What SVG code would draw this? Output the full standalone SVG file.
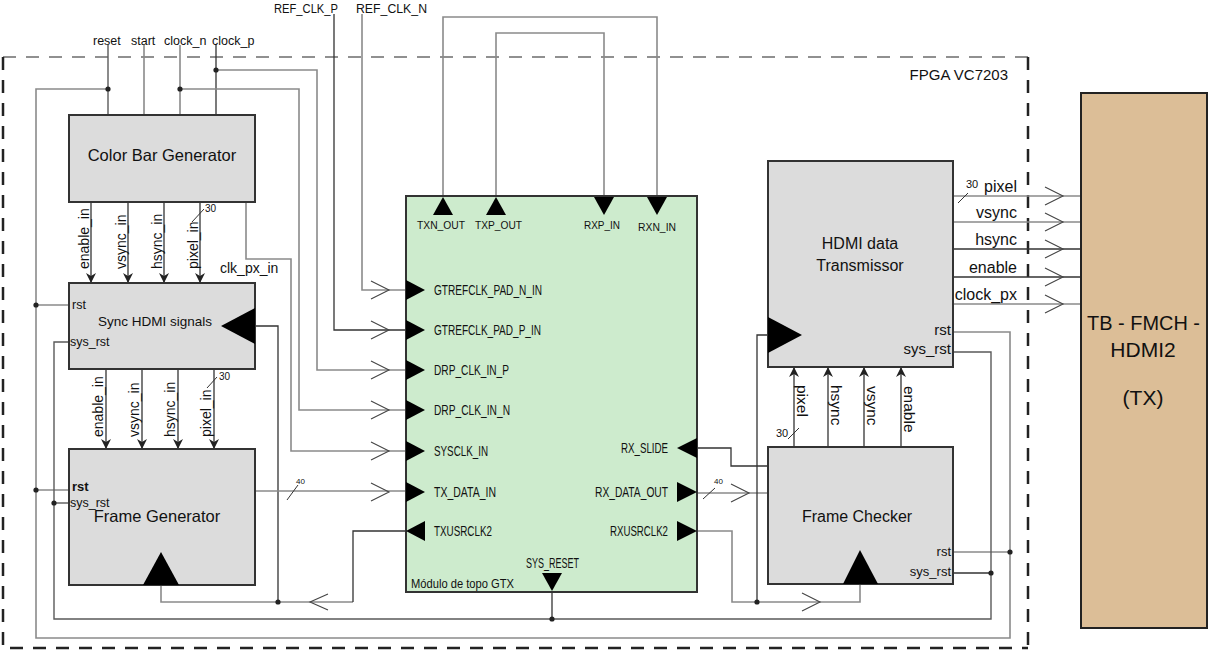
<svg xmlns="http://www.w3.org/2000/svg" width="1208" height="651" viewBox="0 0 1208 651">
<defs>
<style>
text{font-family:"Liberation Sans",Arial,sans-serif;fill:#111;}
.box{fill:#dcdcdc;stroke:#333;stroke-width:2;}
.gtx{fill:#cdebcd;stroke:#333;stroke-width:2;}
.tb{fill:#dcbe97;stroke:#222;stroke-width:2;}
.k{fill:none;stroke:#333;stroke-width:1.3;}
.g{fill:none;stroke:#8a8a8a;stroke-width:1.6;}
.m{fill:none;stroke:#5a5a5a;stroke-width:1.4;}
.chev{fill:none;stroke:#444;stroke-width:1.1;}
.tick{fill:none;stroke:#333;stroke-width:1;}
.dot{fill:#222;}
.tri{fill:#000;}
.port{font-size:14px;}
.tport{font-size:11.5px;}
.sm{font-size:12.5px;}
.sig{font-size:14px;}
.title{font-size:16.5px;}
.num{font-size:10px;}
.num8{font-size:8px;}
.dash-top{fill:none;stroke:#222;stroke-width:1.2;stroke-dasharray:13 10;}
.dash{fill:none;stroke:#222;stroke-width:2.5;stroke-dasharray:13 10;}
</style>
<marker id="arr" markerUnits="userSpaceOnUse" markerWidth="10" markerHeight="10" refX="10" refY="5" orient="auto">
<path d="M0,0 L10,5 L0,10 L3,5 z" fill="#222"/>
</marker>
</defs>

<rect x="0" y="0" width="1208" height="651" fill="#fff"/>

<!-- FPGA boundary -->
<g id="fpga-boundary">
<path class="dash-top" d="M3,57 H1028"/>
<path class="dash" d="M3,57 V648 H1028"/>
<path class="dash" d="M1028,57 V648"/>
<text x="1008" y="80" font-size="15" text-anchor="end">FPGA VC7203</text>
</g>

<!-- connectors -->
<g id="connectors">
<!-- top inputs -->
<path class="m" d="M108,45 V115"/>
<path class="g" d="M144,45 V115"/>
<path class="g" d="M180,45 V115"/>
<path class="k" d="M216,45 V115"/>
<!-- reset bus -->
<path class="g" d="M108,89 H36 V638 H1010 V332 H953"/>
<path class="g" d="M36,305 H69"/>
<path class="g" d="M36,490 H69"/>
<path class="g" d="M953,552 H1010"/>
<!-- sys_rst bus -->
<path class="m" d="M69,342 H54 V619 H991 V352 H953"/>
<path class="m" d="M54,503 H69"/>
<path class="k" d="M953,573 H991"/>
<path class="k" d="M552,590 V619"/>
<!-- clocks to GTX -->
<path class="g" d="M180,89 H299 V410 H406"/>
<path class="g" d="M216,70 H317 V370 H406"/>
<path class="k" d="M334,14 V330 H406"/>
<path class="g" d="M362,14 V290 H406"/>
<path class="g" d="M246,202 V259 H291 V451 H406"/>
<!-- sync clock -->
<path class="k" d="M255,326 H278 V602"/>
<!-- frame gen clock / TXUSRCLK2 -->
<path class="g" d="M161,570 V602 H353"/>
<path class="k" d="M353,602 V531 H406"/>
<!-- TX data -->
<path class="g" d="M255,491 H406"/>
<!-- loopback -->
<path class="g" d="M443,197 V17 H657 V197"/>
<path class="g" d="M496,197 V33 H604 V197"/>
<!-- RX side -->
<path class="k" d="M697,448 H731 V466 H768"/>
<path class="g" d="M697,493 H768"/>
<path class="g" d="M697,531 H732 V602 H860 V575"/>
<path class="k" d="M757,602 V335 H768"/>
<!-- CBG -> Sync -->
<path class="k" d="M91,202 V283" marker-end="url(#arr)"/>
<path class="k" d="M128,202 V283" marker-end="url(#arr)"/>
<path class="k" d="M164,202 V283" marker-end="url(#arr)"/>
<path class="k" d="M200,202 V283" marker-end="url(#arr)"/>
<!-- Sync -> FG -->
<path class="k" d="M106,369 V449" marker-end="url(#arr)"/>
<path class="k" d="M142,369 V449" marker-end="url(#arr)"/>
<path class="k" d="M178,369 V449" marker-end="url(#arr)"/>
<path class="k" d="M214,369 V449" marker-end="url(#arr)"/>
<!-- FC -> HDMI Tx -->
<path class="k" d="M794,447 V367" marker-end="url(#arr)"/>
<path class="k" d="M828,447 V367" marker-end="url(#arr)"/>
<path class="k" d="M864,447 V367" marker-end="url(#arr)"/>
<path class="k" d="M901,447 V367" marker-end="url(#arr)"/>
<!-- HDMI outputs -->
<path class="g" d="M953,196 H1081"/>
<path class="g" d="M953,222 H1081"/>
<path class="k" d="M953,249 H1081"/>
<path class="k" d="M953,277 H1081"/>
<path class="g" d="M953,304 H1081"/>

<!-- chevrons -->
<path class="chev" d="M371,281 L389,290 L371,299"/>
<path class="chev" d="M371,321 L389,330 L371,339"/>
<path class="chev" d="M371,361 L389,370 L371,379"/>
<path class="chev" d="M371,401 L389,410 L371,419"/>
<path class="chev" d="M371,442 L389,451 L371,460"/>
<path class="chev" d="M371,483 L389,492 L371,501"/>
<path class="chev" d="M328,594 L310,602 L328,610"/>
<path class="chev" d="M731,484 L749,493 L731,502"/>
<path class="chev" d="M802,593 L820,602 L802,611"/>
<path class="chev" d="M1045,187 L1063,196 L1045,205"/>
<path class="chev" d="M1045,213 L1063,222 L1045,231"/>
<path class="chev" d="M1045,240 L1063,249 L1045,258"/>
<path class="chev" d="M1045,268 L1063,277 L1045,286"/>
<path class="chev" d="M1045,295 L1063,304 L1045,313"/>

<!-- bus ticks -->
<path class="tick" d="M192,222 L204,209"/>
<path class="tick" d="M207,388 L217,377"/>
<path class="tick" d="M287,500 L298,485"/>
<path class="tick" d="M703,499 L715,488"/>
<path class="tick" d="M788,439 L799,428"/>
<path class="tick" d="M958,203 L968,193"/>

<!-- junction dots -->
<circle class="dot" cx="108" cy="89" r="2.6"/>
<circle class="dot" cx="180" cy="89" r="2.6"/>
<circle class="dot" cx="216" cy="70" r="2.6"/>
<circle class="dot" cx="36" cy="305" r="2.6"/>
<circle class="dot" cx="36" cy="490" r="2.6"/>
<circle class="dot" cx="54" cy="503" r="2.6"/>
<circle class="dot" cx="278" cy="602" r="2.6"/>
<circle class="dot" cx="552" cy="619" r="2.6"/>
<circle class="dot" cx="757" cy="602" r="2.6"/>
<circle class="dot" cx="1010" cy="552" r="2.6"/>
<circle class="dot" cx="991" cy="573" r="2.6"/>

<!-- connector labels -->
<text class="sm" x="93" y="45">reset</text>
<text class="sm" x="131" y="45">start</text>
<text class="sm" x="164" y="45">clock_n</text>
<text class="sm" x="212" y="45">clock_p</text>
<text x="274" y="13" font-size="12" textLength="64" lengthAdjust="spacingAndGlyphs">REF_CLK_P</text>
<text x="356" y="13" font-size="12" textLength="71" lengthAdjust="spacingAndGlyphs">REF_CLK_N</text>
<text class="sig" x="220" y="273">clk_px_in</text>

<text class="sig" transform="translate(88.5,269) rotate(-90)">enable_in</text>
<text class="sig" transform="translate(125.5,269) rotate(-90)">vsync_in</text>
<text class="sig" transform="translate(161.5,269) rotate(-90)">hsync_in</text>
<text class="sig" transform="translate(197.5,269) rotate(-90)">pixel_in</text>
<text class="sig" transform="translate(103,437) rotate(-90)">enable_in</text>
<text class="sig" transform="translate(139,437) rotate(-90)">vsync_in</text>
<text class="sig" transform="translate(175,437) rotate(-90)">hsync_in</text>
<text class="sig" transform="translate(211,437) rotate(-90)">pixel_in</text>

<text font-size="15.5" transform="translate(797,385) rotate(90)">pixel</text>
<text font-size="15.5" transform="translate(831,385) rotate(90)">hsync</text>
<text font-size="15.5" transform="translate(867,386) rotate(90)">vsync</text>
<text font-size="15.5" transform="translate(904,386) rotate(90)">enable</text>

<text font-size="16" x="1017" y="192" text-anchor="end">pixel</text>
<text font-size="16" x="1017" y="218" text-anchor="end">vsync</text>
<text font-size="16" x="1017" y="245" text-anchor="end">hsync</text>
<text font-size="16" x="1017" y="273" text-anchor="end">enable</text>
<text font-size="16" x="1017" y="300" text-anchor="end">clock_px</text>

<text class="num" x="205" y="212">30</text>
<text class="num" x="219" y="380">30</text>
<text class="num8" x="296" y="484">40</text>
<text class="num8" x="714" y="484">40</text>
<text font-size="11" x="776" y="437">30</text>
<text font-size="11" x="966" y="188">30</text>
</g>

<!-- Color Bar Generator -->
<g id="color-bar-generator">
<rect class="box" x="69" y="115" width="186" height="87"/>
<text class="title" x="162" y="161" text-anchor="middle">Color Bar Generator</text>
</g>

<!-- Sync HDMI signals -->
<g id="sync-hdmi-signals">
<rect class="box" x="69" y="283" width="186" height="86"/>
<text font-size="13.5" x="155" y="326" text-anchor="middle">Sync HDMI signals</text>
<text class="sm" x="72" y="309">rst</text>
<text class="sm" x="70" y="346">sys_rst</text>
<polygon class="tri" points="221,326 255,308 255,344"/>
</g>

<!-- Frame Generator -->
<g id="frame-generator">
<rect class="box" x="69" y="449" width="186" height="136"/>
<text class="title" x="157" y="522" text-anchor="middle">Frame Generator</text>
<text font-size="13" font-weight="bold" x="72" y="491">rst</text>
<text class="sm" x="70" y="507">sys_rst</text>
<polygon class="tri" points="161,552 143,585 179,585"/>
</g>

<!-- GTX top module -->
<g id="gtx-top">
<rect class="gtx" x="406" y="196" width="291" height="396"/>
<polygon class="tri" points="443,197 433,215 453,215"/>
<polygon class="tri" points="496,197 486,215 506,215"/>
<polygon class="tri" points="594,197 614,197 604,215"/>
<polygon class="tri" points="647,197 667,197 657,215"/>
<text class="tport" x="417" y="229" textLength="48" lengthAdjust="spacingAndGlyphs">TXN_OUT</text>
<text class="tport" x="475" y="229" textLength="47" lengthAdjust="spacingAndGlyphs">TXP_OUT</text>
<text class="tport" x="584" y="229" textLength="36" lengthAdjust="spacingAndGlyphs">RXP_IN</text>
<text class="tport" x="638" y="231" textLength="38" lengthAdjust="spacingAndGlyphs">RXN_IN</text>

<polygon class="tri" points="406,280 425,290 406,300"/>
<polygon class="tri" points="406,320 425,330 406,340"/>
<polygon class="tri" points="406,360 425,370 406,380"/>
<polygon class="tri" points="406,400 425,410 406,420"/>
<polygon class="tri" points="406,441 425,451 406,461"/>
<polygon class="tri" points="406,482 425,492 406,502"/>
<polygon class="tri" points="425,521 406,531 425,541"/>
<text class="port" x="434" y="295" textLength="108" lengthAdjust="spacingAndGlyphs">GTREFCLK_PAD_N_IN</text>
<text class="port" x="434" y="335" textLength="107" lengthAdjust="spacingAndGlyphs">GTREFCLK_PAD_P_IN</text>
<text class="port" x="434" y="375" textLength="75" lengthAdjust="spacingAndGlyphs">DRP_CLK_IN_P</text>
<text class="port" x="434" y="415" textLength="76" lengthAdjust="spacingAndGlyphs">DRP_CLK_IN_N</text>
<text class="port" x="434" y="456" textLength="54" lengthAdjust="spacingAndGlyphs">SYSCLK_IN</text>
<text class="port" x="434" y="497" textLength="62" lengthAdjust="spacingAndGlyphs">TX_DATA_IN</text>
<text class="port" x="434" y="536" textLength="58" lengthAdjust="spacingAndGlyphs">TXUSRCLK2</text>

<polygon class="tri" points="697,438 677,448 697,458"/>
<polygon class="tri" points="677,482 697,492 677,502"/>
<polygon class="tri" points="677,521 697,531 677,541"/>
<text class="port" x="621" y="453" textLength="47" lengthAdjust="spacingAndGlyphs">RX_SLIDE</text>
<text class="port" x="595" y="497" textLength="73" lengthAdjust="spacingAndGlyphs">RX_DATA_OUT</text>
<text class="port" x="610" y="536" textLength="58" lengthAdjust="spacingAndGlyphs">RXUSRCLK2</text>

<polygon class="tri" points="542,573 562,573 552,591"/>
<text class="port" x="526" y="568" textLength="53" lengthAdjust="spacingAndGlyphs">SYS_RESET</text>
<text font-size="13" x="411" y="588" textLength="103" lengthAdjust="spacingAndGlyphs">Módulo de topo GTX</text>
</g>

<!-- HDMI data Transmissor -->
<g id="hdmi-data-transmissor">
<rect class="box" x="768" y="161" width="185" height="206"/>
<text font-size="16" x="860" y="249" text-anchor="middle">HDMI data</text>
<text font-size="16" x="860" y="271" text-anchor="middle">Transmissor</text>
<text font-size="15" x="951" y="335" text-anchor="end">rst</text>
<text font-size="15" x="951" y="354" text-anchor="end">sys_rst</text>
<polygon class="tri" points="768,317 802,335 768,353"/>
</g>

<!-- Frame Checker -->
<g id="frame-checker">
<rect class="box" x="768" y="447" width="185" height="137"/>
<text font-size="16" x="857" y="522" text-anchor="middle">Frame Checker</text>
<text font-size="13" x="951" y="556" text-anchor="end">rst</text>
<text font-size="13" x="951" y="576" text-anchor="end">sys_rst</text>
<polygon class="tri" points="860,550 843,584 878,584"/>
</g>

<!-- TB - FMCH - HDMI2 -->
<g id="tb-fmch-hdmi2">
<rect class="tb" x="1081" y="93" width="126" height="535"/>
<text font-size="21" x="1087" y="330" textLength="113" lengthAdjust="spacingAndGlyphs">TB - FMCH -</text>
<text font-size="21" x="1143" y="357" text-anchor="middle">HDMI2</text>
<text font-size="21" x="1143" y="405" text-anchor="middle">(TX)</text>
</g>
</svg>
